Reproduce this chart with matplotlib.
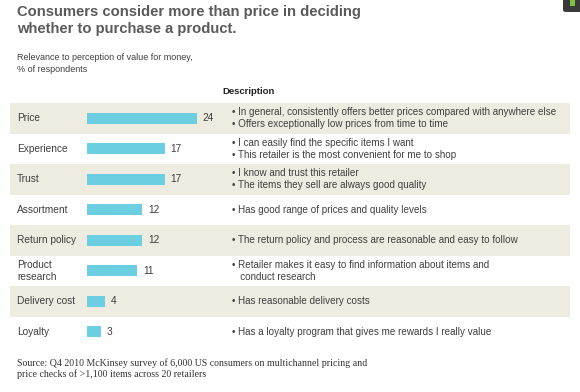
import matplotlib
matplotlib.use("Agg")
import matplotlib.pyplot as plt
from matplotlib.patches import FancyBboxPatch, Rectangle
from matplotlib.transforms import blended_transform_factory

# ---- data ----
categories = ["Price", "Experience", "Trust", "Assortment", "Return policy",
              "Product\nresearch", "Delivery cost", "Loyalty"]
values = [24, 17, 17, 12, 12, 11, 4, 3]
descriptions = [
    "\u2022 In general, consistently offers better prices compared with anywhere else\n\u2022 Offers exceptionally low prices from time to time",
    "\u2022 I can easily find the specific items I want\n\u2022 This retailer is the most convenient for me to shop",
    "\u2022 I know and trust this retailer\n\u2022 The items they sell are always good quality",
    "\u2022 Has good range of prices and quality levels",
    "\u2022 The return policy and process are reasonable and easy to follow",
    "\u2022 Retailer makes it easy to find information about items and\n   conduct research",
    "\u2022 Has reasonable delivery costs",
    "\u2022 Has a loyalty program that gives me rewards I really value",
]
title = "Consumers consider more than price in deciding\nwhether to purchase a product."
subtitle = "Relevance to perception of value for money,\n% of respondents"
header = "Description"
source = ("Source: Q4 2010 McKinsey survey of 6,000 US consumers on multichannel pricing and\n"
          "price checks of >1,100 items across 20 retailers")

W, H = 580, 392
fig = plt.figure(figsize=(W / 100, H / 100), dpi=100)
fig.patch.set_facecolor("white")

SANS = ["Liberation Sans", "DejaVu Sans"]
SERIF = ["Liberation Serif", "DejaVu Serif"]
band_color = "#EEEBE1"
bar_color = "#6CCFE1"
text_color = "#3f3f3f"

# axes in pixel layout
left_px, right_px = 10, 570
top_px, bottom_px = 103, 347
zero_px = 87
px_per_unit = 4.58
ax = fig.add_axes([left_px / W, 1 - bottom_px / H,
                   (right_px - left_px) / W, (bottom_px - top_px) / H])
ax.set_xlim(-(zero_px - left_px) / px_per_unit, (right_px - zero_px) / px_per_unit)
n = len(categories)
ax.set_ylim(n - 0.5, -0.5)
ax.axis("off")

for i in range(n):
    if i % 2 == 0:
        ax.axhspan(i - 0.5, i + 0.5, color=band_color, lw=0, zorder=0)

ys = list(range(n))
ax.barh(ys, values, height=0.35, left=0, color=bar_color, zorder=2)

tr = blended_transform_factory(ax.transAxes, ax.transData)
for i, (cat, v, d) in enumerate(zip(categories, values, descriptions)):
    ax.text((17 - left_px) / (right_px - left_px), i, cat, transform=tr,
            ha="left", va="center", fontsize=7.3, family=SANS, color=text_color,
            linespacing=1.2)
    ax.annotate(str(v), xy=(v, i), xytext=(4.2, 0), textcoords="offset points",
                ha="left", va="center", fontsize=7.3, family=SANS, color=text_color)
    ax.text((232 - left_px) / (right_px - left_px), i, d, transform=tr,
            ha="left", va="center", fontsize=7.1, family=SANS, color=text_color,
            linespacing=1.3)

# titles
fig.text(17 / W, 1 - 20.5 / H, title, ha="left", va="center", fontsize=10.6,
         fontweight="bold", family=SANS, color="#5a5a5a", linespacing=1.3)
fig.text(17 / W, 1 - 63.5 / H, subtitle, ha="left", va="center", fontsize=6.5,
         family=SANS, color=text_color, linespacing=1.3)
fig.text(249 / W, 1 - 91 / H, header, ha="center", va="center", fontsize=6.8,
         fontweight="bold", family=SANS, color="#222222")
fig.text(17 / W, 1 - 369 / H, source, ha="left", va="center", fontsize=7.1,
         family=SERIF, color="#333333", linespacing=1.2)

# small corner widget
fig.patches.append(FancyBboxPatch((563 / W, 1 - 12 / H), 20 / W, 14 / H,
                                  boxstyle="round,pad=0,rounding_size=0.005",
                                  transform=fig.transFigure, facecolor="#3a3a3a",
                                  edgecolor="none"))
fig.patches.append(Rectangle((570 / W, 1 - 6 / H), 5 / W, 6 / H,
                             transform=fig.transFigure, facecolor="#7fc241",
                             edgecolor="none"))

fig.savefig("out.png", dpi=100)
